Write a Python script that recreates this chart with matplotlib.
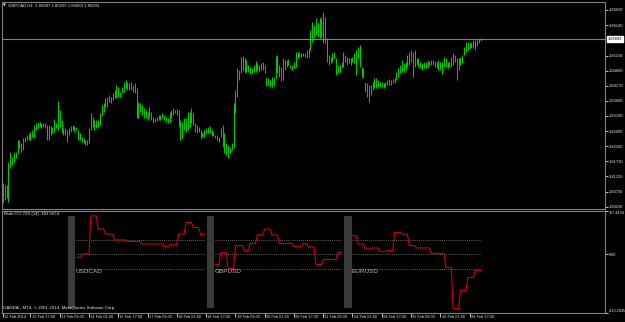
import numpy as np
import matplotlib
matplotlib.use("Agg")
import matplotlib.pyplot as plt
from matplotlib.transforms import ScaledTranslation, blended_transform_factory

# ---------------- data ----------------
symbol_header = "GBPCAD,H1  1.85687 1.85695 1.85683 1.85693"
bid_price = 1.85693

bar_high = [
    1.8101, 1.8094, 1.8094, 1.8169, 1.8202, 1.8185, 1.8202, 1.8202, 1.8241, 1.8241,
    1.8231, 1.8247, 1.8250, 1.8257, 1.8263, 1.8267, 1.8273, 1.8289, 1.8296, 1.8299,
    1.8299, 1.8296, 1.8296, 1.8296, 1.8289, 1.8289, 1.8286, 1.8283, 1.8309, 1.8296,
    1.8367, 1.8338, 1.8306, 1.8280, 1.8280, 1.8273, 1.8280, 1.8286, 1.8289, 1.8286,
    1.8283, 1.8273, 1.8263, 1.8250, 1.8247, 1.8241, 1.8241, 1.8280, 1.8328, 1.8315,
    1.8306, 1.8306, 1.8306, 1.8328, 1.8354, 1.8361, 1.8377, 1.8380, 1.8387, 1.8380,
    1.8393, 1.8403, 1.8419, 1.8413, 1.8397, 1.8413, 1.8429, 1.8436, 1.8429, 1.8426,
    1.8429, 1.8419, 1.8426, 1.8410, 1.8364, 1.8361, 1.8354, 1.8345, 1.8338, 1.8332,
    1.8348, 1.8332, 1.8315, 1.8312, 1.8315, 1.8322, 1.8322, 1.8328, 1.8322, 1.8315,
    1.8312,
    1.8332, 1.8338, 1.8345, 1.8338, 1.8341, 1.8338, 1.8306, 1.8299, 1.8312, 1.8312,
    1.8332, 1.8332, 1.8345, 1.8328, 1.8296, 1.8289, 1.8283, 1.8273, 1.8267, 1.8273,
    1.8280, 1.8283, 1.8286, 1.8273, 1.8267, 1.8257, 1.8257, 1.8250, 1.8280, 1.8289,
    1.8263, 1.8231, 1.8224, 1.8218, 1.8231, 1.8361, 1.8403, 1.8475, 1.8468, 1.8510,
    1.8514, 1.8507, 1.8501, 1.8484, 1.8478, 1.8475, 1.8484, 1.8497, 1.8491, 1.8484,
    1.8491, 1.8494, 1.8484, 1.8445, 1.8442, 1.8436, 1.8445, 1.8445, 1.8514, 1.8517,
    1.8484, 1.8478, 1.8507, 1.8501, 1.8501, 1.8504, 1.8484, 1.8484, 1.8494, 1.8527,
    1.8527, 1.8527, 1.8523, 1.8523, 1.8523, 1.8533, 1.8540, 1.8598, 1.8624, 1.8614,
    1.8637, 1.8621, 1.8637,
    1.8640, 1.8656, 1.8640, 1.8572, 1.8517, 1.8510, 1.8523, 1.8527, 1.8507, 1.8484,
    1.8484, 1.8494, 1.8527, 1.8517, 1.8510, 1.8507, 1.8507, 1.8510, 1.8523, 1.8533,
    1.8543, 1.8549, 1.8478, 1.8475, 1.8429, 1.8426, 1.8419, 1.8419, 1.8429, 1.8442,
    1.8442, 1.8436, 1.8429, 1.8429, 1.8426, 1.8429, 1.8436, 1.8439, 1.8436, 1.8439,
    1.8442, 1.8462, 1.8475, 1.8484, 1.8501, 1.8491, 1.8494, 1.8517, 1.8527, 1.8533,
    1.8527, 1.8533, 1.8507, 1.8507, 1.8494, 1.8491, 1.8494, 1.8494, 1.8497, 1.8497,
    1.8501, 1.8501, 1.8497, 1.8494, 1.8501, 1.8494, 1.8494, 1.8510, 1.8507, 1.8494,
    1.8494, 1.8510, 1.8523, 1.8517, 1.8507, 1.8507, 1.8510, 1.8517, 1.8543, 1.8559,
    1.8559, 1.8556, 1.8559, 1.8566, 1.8566, 1.8569, 1.8569, 1.8572,
]
bar_low = [
    1.8036, 1.8046, 1.8052, 1.8039, 1.8153, 1.8159, 1.8169, 1.8182, 1.8198, 1.8215,
    1.8202, 1.8208, 1.8234, 1.8241, 1.8241, 1.8241, 1.8250, 1.8247, 1.8273, 1.8280,
    1.8283, 1.8280, 1.8283, 1.8280, 1.8241, 1.8241, 1.8257, 1.8263, 1.8267, 1.8280,
    1.8273, 1.8283, 1.8263, 1.8257, 1.8257, 1.8234, 1.8257, 1.8267, 1.8273, 1.8267,
    1.8273, 1.8241, 1.8241, 1.8234, 1.8231, 1.8224, 1.8224, 1.8231, 1.8273, 1.8283,
    1.8273, 1.8280, 1.8283, 1.8289, 1.8322, 1.8332, 1.8348, 1.8348, 1.8364, 1.8361,
    1.8371, 1.8377, 1.8377, 1.8380, 1.8380, 1.8393, 1.8397, 1.8410, 1.8403, 1.8403,
    1.8403, 1.8397, 1.8393, 1.8312, 1.8312, 1.8332, 1.8322, 1.8312, 1.8312, 1.8306,
    1.8315, 1.8306, 1.8296, 1.8299, 1.8302, 1.8306, 1.8306, 1.8312, 1.8306, 1.8299,
    1.8296,
    1.8299, 1.8312, 1.8322, 1.8328, 1.8322, 1.8283, 1.8241, 1.8247, 1.8273, 1.8267,
    1.8273, 1.8283, 1.8296, 1.8289, 1.8267, 1.8263, 1.8267, 1.8244, 1.8250, 1.8250,
    1.8263, 1.8263, 1.8263, 1.8254, 1.8254, 1.8247, 1.8241, 1.8234, 1.8250, 1.8218,
    1.8198, 1.8192, 1.8182, 1.8198, 1.8208, 1.8218, 1.8328, 1.8380, 1.8436, 1.8458,
    1.8468, 1.8458, 1.8462, 1.8462, 1.8455, 1.8458, 1.8462, 1.8462, 1.8468, 1.8462,
    1.8468, 1.8468, 1.8458, 1.8416, 1.8419, 1.8413, 1.8413, 1.8419, 1.8442, 1.8458,
    1.8445, 1.8432, 1.8436, 1.8468, 1.8478, 1.8484, 1.8475, 1.8468, 1.8475, 1.8478,
    1.8507, 1.8510, 1.8510, 1.8514, 1.8510, 1.8507, 1.8510, 1.8533, 1.8559, 1.8572,
    1.8582, 1.8575, 1.8572,
    1.8575, 1.8556, 1.8556, 1.8494, 1.8484, 1.8491, 1.8494, 1.8507, 1.8452, 1.8458,
    1.8462, 1.8478, 1.8478, 1.8494, 1.8484, 1.8491, 1.8484, 1.8494, 1.8491, 1.8452,
    1.8507, 1.8478, 1.8445, 1.8442, 1.8397, 1.8380, 1.8364, 1.8387, 1.8403, 1.8410,
    1.8410, 1.8413, 1.8413, 1.8413, 1.8410, 1.8413, 1.8419, 1.8419, 1.8419, 1.8426,
    1.8426, 1.8436, 1.8445, 1.8458, 1.8462, 1.8462, 1.8468, 1.8478, 1.8484, 1.8494,
    1.8445, 1.8478, 1.8484, 1.8478, 1.8475, 1.8468, 1.8475, 1.8475, 1.8478, 1.8484,
    1.8484, 1.8484, 1.8478, 1.8475, 1.8468, 1.8468, 1.8455, 1.8478, 1.8478, 1.8475,
    1.8478, 1.8478, 1.8484, 1.8494, 1.8436, 1.8468, 1.8484, 1.8491, 1.8517, 1.8527,
    1.8533, 1.8540, 1.8540, 1.8540, 1.8533, 1.8546, 1.8556, 1.8562,
]

price_ticks = [1.86630, 1.86140, 1.85150, 1.84660, 1.84170, 1.83680, 1.83190,
               1.82690, 1.82200, 1.81710, 1.81220, 1.80730, 1.80230]
price_range = (1.80163, 1.86906)

time_labels = ["12 Feb 2014", "12 Feb 17:00", "13 Feb 09:00", "14 Feb 01:00",
               "16 Feb 17:00", "17 Feb 09:00", "18 Feb 01:00", "18 Feb 17:00",
               "19 Feb 09:00", "20 Feb 01:00", "20 Feb 17:00", "21 Feb 09:00",
               "24 Feb 01:00", "24 Feb 17:00", "25 Feb 09:00", "26 Feb 01:00",
               "26 Feb 17:00"]
time_tick_bars = [0, 15, 31, 47, 63, 79, 95, 111, 127, 143, 159, 175, 191, 207,
                  223, 239, 255]

cci_header = "Multi CCI 72S (14) -103.5674"
cci_range = (-413.2945, 307.4434)
cci_levels = [100, 0, -100]
pair_names = ["USDCAD", "GBPUSD", "EURUSD"]
pair_start_bar = [40, 116, 191]
usdcad_vals = [-20, 4, 272, 179, 144, 102, 92, 74, 55, 69, 144, 225, 190, 139]
usdcad_lens = [3, 5, 4, 4, 5, 7, 8, 12, 3, 5, 4, 4, 4, 3]
gbpusd_vals = [-71, 13, -99, 62, 27, 78, 139, 179, 137, 78, 55, 76, 52, -71, -36, 15]
gbpusd_lens = [3, 4, 4, 5, 3, 4, 4, 4, 4, 8, 5, 3, 4, 4, 8, 3]
eurusd_vals = [132, 74, 39, 46, 20, 27, 155, 144, 62, 46, 8, -90, -380, -253, -162, -113]
eurusd_lens = [3, 4, 4, 4, 4, 4, 4, 4, 4, 8, 8, 4, 4, 4, 4, 4]

copyright_text = "OANDA - MT4, \u00a9 2001-2014, MetaQuotes Software Corp."

# ---------------- styling ----------------
W, H = 625, 322
plt.rcParams['font.family'] = ['Liberation Sans', 'DejaVu Sans']
FS = 3.1
TXT = '#e6e6e6'
GRID = '#808080'

fig = plt.figure(figsize=(W / 100, H / 100), dpi=100, facecolor='black')


def rect(l, t, r, b):
    return [l / W, 1 - b / H, (r - l) / W, (b - t) / H]


ax = fig.add_axes(rect(2, 1.5, 605, 209))
ax2 = fig.add_axes(rect(2, 210.8, 605, 313.2))
xlim = (-0.55, 329)

# main price panel
ax.set_facecolor('black')
bars = np.arange(len(bar_high))
ax.vlines(bars, bar_low, bar_high, color='#00dc00', lw=0.65)
ax.axhline(bid_price, color=GRID, lw=0.8)
ax.set_xlim(*xlim)
ax.set_ylim(*price_range)
ax.set_xticks([])
ax.yaxis.tick_right()
ax.set_yticks(price_ticks)
ax.set_yticklabels([f"{v:.5f}" for v in price_ticks])
ax.tick_params(axis='y', colors=TXT, labelsize=2.9, length=2, width=0.6, pad=1.0)
for s in ax.spines.values():
    s.set_color(GRID)
    s.set_linewidth(0.8)
bt = blended_transform_factory(ax.transAxes, ax.transData)
ax.text(1.0, bid_price, f"{bid_price:.5f}",
        transform=bt + ScaledTranslation(0.025, 0, fig.dpi_scale_trans),
        ha='left', va='center', fontsize=2.9, color='black',
        bbox=dict(facecolor='white', edgecolor='white', pad=0.5))

# indicator panel
ax2.set_facecolor('black')
ax2.set_xlim(*xlim)
ax2.set_ylim(*cci_range)
runs = [(usdcad_vals, usdcad_lens), (gbpusd_vals, gbpusd_lens), (eurusd_vals, eurusd_lens)]
series = [np.repeat(v, n) for v, n in runs]
allv = np.concatenate(series)
vmin, vmax = allv.min(), allv.max()
for name, start, vals in zip(pair_names, pair_start_bar, series):
    x = start + np.arange(len(vals))
    ax2.bar(start - 2.5, vmax - vmin, bottom=vmin, width=4, color='#3a3a3a', linewidth=0)
    for lv in cci_levels:
        ax2.plot([x[0], x[-1]], [lv, lv], color=GRID, lw=0.6, ls=(0, (1, 1.5)))
    ax2.plot(x, vals, color='#d00000', lw=0.8)
    ax2.text(start - 0.5, -100, name, ha='left', va='top', fontsize=4.6, color='#b4b4b4')

ax2.yaxis.tick_right()
ax2.set_yticks([cci_range[1], 0, cci_range[0]])
ax2.set_yticklabels([f"{cci_range[1]:.4f}", "0.00", f"{cci_range[0]:.4f}"])
ax2.tick_params(axis='y', colors=TXT, labelsize=2.7, length=2, width=0.6, pad=0.8)
ylabs = ax2.get_yticklabels()
ylabs[0].set_va('top')
ylabs[2].set_va('bottom')
ax2.set_xticks(time_tick_bars)
ax2.set_xticklabels(time_labels)
ax2.tick_params(axis='x', colors=TXT, labelsize=2.75, length=3, width=0.6, pad=-1.5)
for lab in ax2.get_xticklabels():
    lab.set_ha('left')
    lab.set_transform(lab.get_transform() + ScaledTranslation(0.012, 0, fig.dpi_scale_trans))
for s in ax2.spines.values():
    s.set_color(GRID)
    s.set_linewidth(0.8)

# header texts
fig.text(3 / W, 1 - 5.5 / H, "\u25bc", fontsize=2.6, color=TXT, ha='left', va='center', family='DejaVu Sans')
fig.text(8 / W, 1 - 5.5 / H, symbol_header, fontsize=FS, color=TXT, ha='left', va='center')
fig.text(4 / W, 1 - 214.5 / H, cci_header, fontsize=FS, color=TXT, ha='left', va='center')
fig.text(3 / W, 1 - 308 / H, copyright_text, fontsize=3.2, color=TXT, ha='left', va='center')

fig.savefig("out.png", dpi=100, facecolor='black')
